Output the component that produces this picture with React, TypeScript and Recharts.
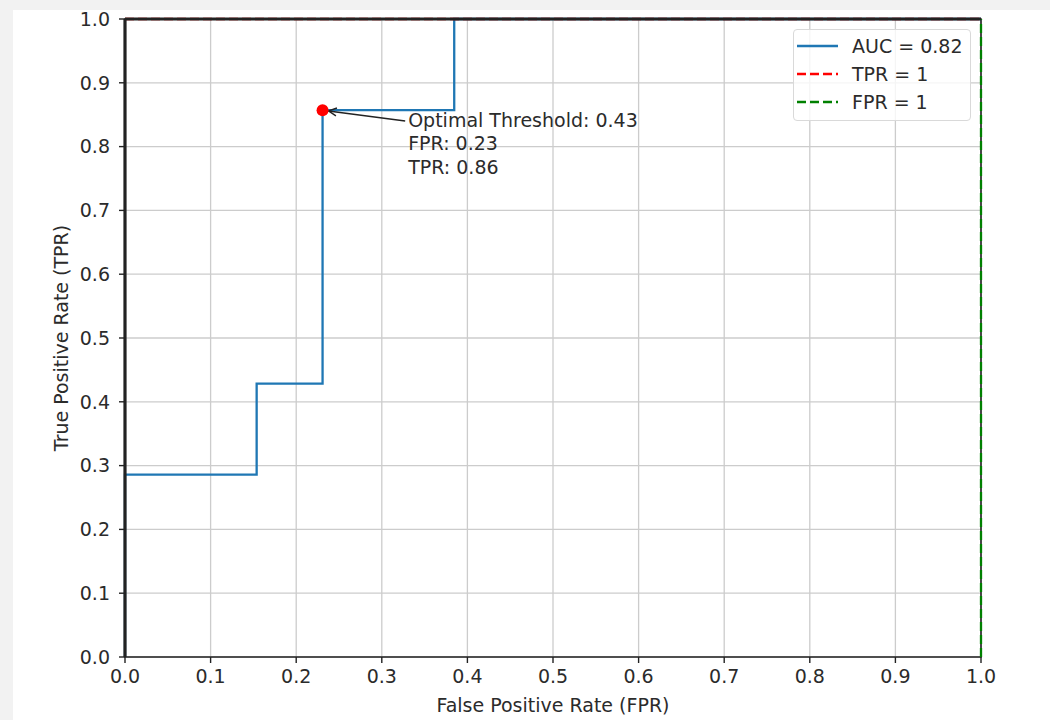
import {
  CartesianGrid,
  Legend,
  Line,
  LineChart,
  ReferenceArea,
  ReferenceDot,
  ReferenceLine,
  XAxis,
  YAxis,
} from "recharts";

// ROC curve (step shape)
const rocFpr = [0, 0, 0.1538, 0.1538, 0.2308, 0.2308, 0.3846, 0.3846, 1];
const rocTpr = [0, 0.2857, 0.2857, 0.4286, 0.4286, 0.8571, 0.8571, 1, 1];

// reference lines
const tprOneFpr = [0, 1];
const tprOneTpr = [1, 1];
const fprOneFpr = [1, 1];
const fprOneTpr = [0, 1];

const axisTicks = [0, 0.1, 0.2, 0.3, 0.4, 0.5, 0.6, 0.7, 0.8, 0.9, 1.0];

const optimalFpr = 0.2308;
const optimalTpr = 0.8571;
const optimalThreshold = 0.43;

const legendNames = ["AUC = 0.82", "TPR = 1", "FPR = 1"];

const BLUE = "#1f77b4";
const RED = "#ff0000";
const GREEN = "#008000";
const TEXT = "#2b2b2b";
const SPINE = "#222";
const DASH = "9 4";
const FONT = 19;
const legendStyles = [
  { color: BLUE, dash: undefined },
  { color: RED, dash: DASH },
  { color: GREEN, dash: DASH },
];

const toPoints = (xs: number[], ys: number[]) => xs.map((x, i) => ({ fpr: x, tpr: ys[i] }));

const rocData = toPoints(rocFpr, rocTpr);
const tprOneData = toPoints(tprOneFpr, tprOneTpr);
const fprOneData = toPoints(fprOneFpr, fprOneTpr);

const fmt = (v: number) => v.toFixed(1);

function LegendBox() {
  return (
    <div
      style={{
        width: 178,
        height: 92,
        boxSizing: "border-box",
        border: "1px solid #d9d9d9",
        borderRadius: 4,
        background: "rgba(255,255,255,0.8)",
        padding: "2px 4px 0 3px",
      }}
    >
      {legendNames.map((name, i) => (
        <div key={name} style={{ display: "flex", alignItems: "center", height: 28 }}>
          <svg width={41} height={10}>
            <line
              x1={0}
              y1={5}
              x2={41}
              y2={5}
              stroke={legendStyles[i].color}
              strokeWidth={2.3}
              strokeDasharray={legendStyles[i].dash}
            />
          </svg>
          <span style={{ marginLeft: 14, fontSize: FONT, color: TEXT, whiteSpace: "nowrap" }}>{name}</span>
        </div>
      ))}
    </div>
  );
}

// arrow + multi-line annotation, x1/y1 = text anchor, x2/y2 = optimal point
function Annotation(props: any) {
  const { x1, y1, x2, y2 } = props;
  const lineH = 23.5;
  const tailX = x1 - 3;
  const tailY = y1 - 2 * lineH - 6;
  const ang = Math.atan2(y2 - tailY, x2 - tailX);
  const hx = x2 - Math.cos(ang) * 6;
  const hy = y2 - Math.sin(ang) * 6;
  const hl = 8;
  const hw = 4;
  const bx = hx - Math.cos(ang) * hl;
  const by = hy - Math.sin(ang) * hl;
  const px = -Math.sin(ang) * hw;
  const py = Math.cos(ang) * hw;
  return (
    <g>
      <line x1={tailX} y1={tailY} x2={hx} y2={hy} stroke="#222" strokeWidth={1.4} />
      <polyline
        points={`${bx + px},${by + py} ${hx},${hy} ${bx - px},${by - py}`}
        fill="none"
        stroke="#222"
        strokeWidth={1.4}
      />
      <text x={x1} y={y1} fontSize={FONT} fill={TEXT}>
        <tspan x={x1} y={y1 - 2 * lineH}>{`Optimal Threshold: ${optimalThreshold.toFixed(2)}`}</tspan>
        <tspan x={x1} y={y1 - lineH}>{`FPR: ${optimalFpr.toFixed(2)}`}</tspan>
        <tspan x={x1} y={y1}>{`TPR: ${optimalTpr.toFixed(2)}`}</tspan>
      </text>
    </g>
  );
}

export default function App() {
  return (
    <div
      style={{
        position: "absolute",
        left: 0,
        top: 0,
        width: 1050,
        height: 720,
        background: "#f2f2f2",
        fontFamily: "'DejaVu Sans', sans-serif",
      }}
    >
      <div style={{ position: "absolute", left: 13, top: 10, right: 0, bottom: 0, background: "#fff" }} />
      <div style={{ position: "absolute", left: 0, top: 0 }}>
        <LineChart width={1050} height={720} margin={{ top: 19, right: 69, left: 0, bottom: 0 }}>
          <CartesianGrid stroke="#cccccc" strokeWidth={1.3} />
          <XAxis
            dataKey="fpr"
            type="number"
            domain={[0, 1]}
            ticks={axisTicks}
            tickFormatter={fmt}
            height={63}
            tickSize={6}
            tickMargin={7}
            axisLine={false}
            tickLine={{ stroke: SPINE, strokeWidth: 1.4 }}
            tick={{ fill: TEXT, fontSize: FONT }}
            label={{ value: "False Positive Rate (FPR)", position: "center", dy: 17, fill: TEXT, fontSize: FONT }}
          />
          <YAxis
            dataKey="tpr"
            type="number"
            domain={[0, 1]}
            ticks={axisTicks}
            tickFormatter={fmt}
            width={125}
            tickSize={6}
            tickMargin={9}
            axisLine={false}
            tickLine={{ stroke: SPINE, strokeWidth: 1.4 }}
            tick={{ fill: TEXT, fontSize: FONT }}
            label={{ value: "True Positive Rate (TPR)", angle: -90, position: "center", dx: -1, fill: TEXT, fontSize: FONT }}
          />
          <ReferenceArea x1={0} x2={1} y1={0} y2={1} fill="none" fillOpacity={0} stroke={SPINE} strokeWidth={1.6} />
          <Line
            data={rocData}
            dataKey="tpr"
            type="linear"
            stroke={BLUE}
            strokeWidth={2.3}
            dot={false}
            isAnimationActive={false}
          />
          <Line
            data={tprOneData}
            dataKey="tpr"
            type="linear"
            stroke={RED}
            strokeWidth={2.3}
            strokeDasharray={DASH}
            dot={false}
            isAnimationActive={false}
          />
          <Line
            data={fprOneData}
            dataKey="tpr"
            type="linear"
            stroke={GREEN}
            strokeWidth={2.3}
            strokeDasharray={DASH}
            dot={false}
            isAnimationActive={false}
          />
          {/* top and left spines drawn over the lines, like matplotlib */}
          <ReferenceLine y={1} stroke={SPINE} strokeWidth={3.2} />
          <ReferenceLine x={0} stroke={SPINE} strokeWidth={3.2} />
          <ReferenceDot x={optimalFpr} y={optimalTpr} r={6} fill={RED} stroke="none" />
          <ReferenceLine
            segment={[
              { x: optimalFpr + 0.1, y: optimalTpr - 0.1 },
              { x: optimalFpr, y: optimalTpr },
            ]}
            shape={Annotation}
          />
          <Legend
            layout="vertical"
            align="center"
            verticalAlign="middle"
            content={() => <LegendBox />}
            wrapperStyle={{ left: 793, top: 29, width: 178, height: 92 }}
          />
        </LineChart>
      </div>
    </div>
  );
}
